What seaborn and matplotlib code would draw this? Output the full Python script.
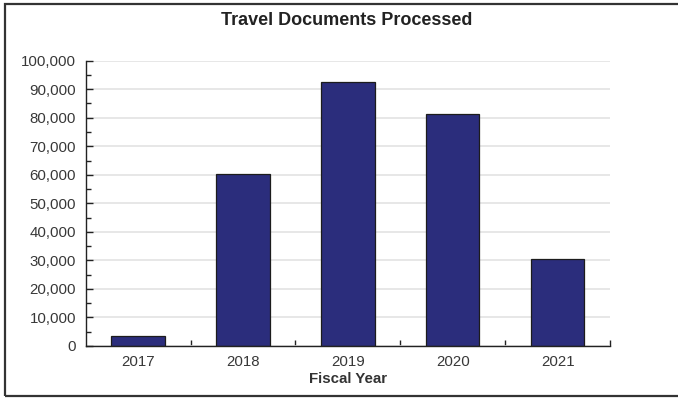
import matplotlib
matplotlib.use("Agg")
import matplotlib.pyplot as plt
import seaborn as sns
import pandas as pd
from matplotlib.ticker import MultipleLocator, FuncFormatter
from matplotlib.patches import Rectangle

# Travel documents processed per fiscal year
fiscal_years = ["2017", "2018", "2019", "2020", "2021"]
documents = [3600, 60400, 92400, 81200, 30400]

df = pd.DataFrame({"Fiscal Year": fiscal_years, "Documents": documents})

sns.set_theme(style="white")
plt.rcParams["font.family"] = ["Liberation Sans", "DejaVu Sans"]

fig = plt.figure(figsize=(6.78, 3.98), dpi=100)
ax = fig.add_axes([0.1264, 0.1307, 0.8997 - 0.1264, 0.8475 - 0.1307])

sns.barplot(data=df, x="Fiscal Year", y="Documents", color="#2B2D7C",
            saturation=1, width=0.51, edgecolor="#1c1c1c", linewidth=0.9, ax=ax)

ax.set_ylim(0, 100000)
ax.set_xlim(-0.5, len(fiscal_years) - 0.5)
ax.yaxis.set_major_locator(MultipleLocator(10000))
ax.yaxis.set_minor_locator(MultipleLocator(5000))
ax.yaxis.set_major_formatter(FuncFormatter(lambda v, p: f"{int(v):,}"))

ax.grid(axis="y", which="major", color="#e3e3e3", linewidth=1.2)
ax.set_axisbelow(True)

for s in ["top", "right"]:
    ax.spines[s].set_visible(False)
for s in ["left", "bottom"]:
    ax.spines[s].set_color("#222222")
    ax.spines[s].set_linewidth(1.0)

ax.tick_params(axis="y", which="major", direction="in", length=5, width=1,
               color="#222222", labelsize=10.8, labelcolor="#383838", pad=7, left=True)
ax.tick_params(axis="y", which="minor", direction="in", length=3.5, width=1,
               color="#222222", left=True)

# category labels centered under bars, ticks between categories
ax.set_xticks(range(len(fiscal_years)))
ax.set_xticklabels(fiscal_years)
ax.tick_params(axis="x", which="major", length=0, labelsize=10.8,
               labelcolor="#383838", pad=6.5)
ax.set_xticks([i + 0.5 for i in range(len(fiscal_years))], minor=True)
ax.tick_params(axis="x", which="minor", direction="in", length=4, width=1,
               color="#222222", bottom=True)

ax.set_xlabel("Fiscal Year", fontsize=10.8, fontweight="bold", color="#333333", labelpad=2.5)
ax.set_ylabel("")

fig.text(0.512, 0.948, "Travel Documents Processed", ha="center", va="center",
         fontsize=13, fontweight="bold", color="#222222")

# outer frame
fig.patches.append(Rectangle((5 / 678, 1 - 396 / 398), 1.0, (396 - 3.5) / 398,
                             transform=fig.transFigure, fill=False,
                             edgecolor="#333333", linewidth=1.6))

fig.savefig("out.png", dpi=100)
